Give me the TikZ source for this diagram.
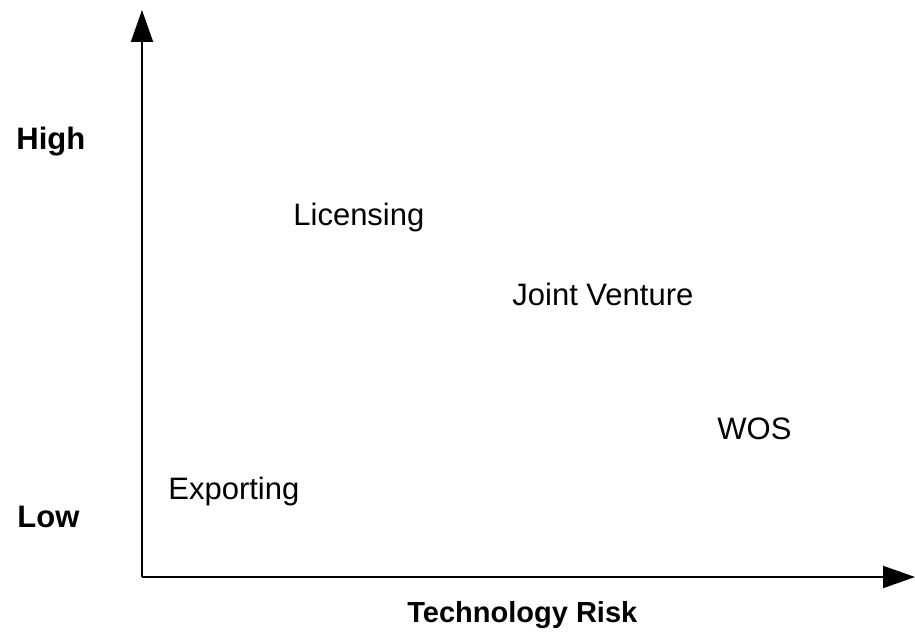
\documentclass[tikz,border=0pt]{standalone}
\usepackage{fontspec}
\setmainfont{Liberation Sans}
\usetikzlibrary{arrows.meta}

\begin{document}
\begin{tikzpicture}[x=0.5pt, y=0.5pt,
        axis/.style={line width=1pt, -{Triangle[length=16pt, width=11pt]}},
        lbl/.style={anchor=base west, inner sep=0pt, font=\fontsize{15.5}{18}\selectfont},
        axislbl/.style={lbl, font=\fontsize{15.5}{18}\selectfont\bfseries}]
        \useasboundingbox (0, 0) rectangle (915, 637);

        \coordinate (O) at (142, 60);
        \coordinate (ytip) at (142, 627);
        \coordinate (xtip) at (915, 60);
        \draw[axis] (O) -- (ytip);
        \draw[axis] (O) -- (xtip);

        \node[axislbl] (high) at (16, 487) {High};
        \node[axislbl] (low) at (17, 109) {Low};
        \node[axislbl, font=\fontsize{14.5}{17}\selectfont\bfseries] (risk) at (407, 15) {Technology Risk};

        \node[lbl] (lic) at (293, 411) {Licensing};
        \node[lbl] (jv) at (512, 331) {Joint Venture};
        \node[lbl] (wos) at (717, 197) {WOS};
        \node[lbl] (exp) at (168, 137) {Exporting};
    \end{tikzpicture}
\end{document}
